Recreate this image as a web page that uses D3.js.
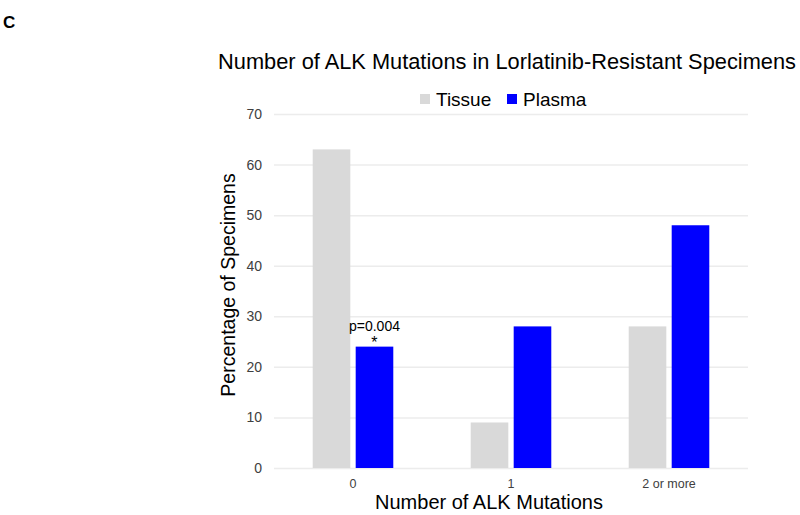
<!DOCTYPE html>
<html>
<head>
<meta charset="utf-8">
<script src="https://cdn.jsdelivr.net/npm/d3@7"></script>
<style>
  body { margin: 0; background: #fff; }
  svg { font-family: "Liberation Sans", Arial, sans-serif; display: block; }
  .grid line { stroke: #ececec; stroke-width: 1.5; }
  .tick text { fill: #404040; }
</style>
</head>
<body>
<div class="chart"></div>
<script>
const categories = ['0', '1', '2 or more']
const seriesNames = ['Tissue', 'Plasma']
const tissue = [63, 9, 28]
const plasma = [24, 28, 48]
const yTickValues = [0, 10, 20, 30, 40, 50, 60, 70]
const colors = { Tissue: '#d9d9d9', Plasma: '#0000ff' }

const width = 800
const height = 515
const margin = { top: 114, right: 52, bottom: 47, left: 274 }
const innerW = width - margin.left - margin.right
const innerH = height - margin.top - margin.bottom

const svg = d3.select('.chart').append('svg')
  .attr('width', width)
  .attr('height', height)

// panel letter
svg.append('text')
  .attr('x', 3).attr('y', 28)
  .attr('font-size', 17).attr('font-weight', 'bold')
  .text('C')

// title
svg.append('text')
  .attr('x', 507).attr('y', 69)
  .attr('text-anchor', 'middle')
  .attr('font-size', 21.8)
  .text('Number of ALK Mutations in Lorlatinib-Resistant Specimens')

const g = svg.append('g')
  .attr('transform', `translate(${margin.left},${margin.top})`)

const x0 = d3.scaleBand()
  .domain(categories)
  .range([0, innerW])
  .paddingInner(0.49)
  .paddingOuter(0.245)

const x1 = d3.scaleBand()
  .domain(seriesNames)
  .range([0, x0.bandwidth()])
  .paddingInner(0.125)

const y = d3.scaleLinear()
  .domain([0, 70])
  .range([innerH, 0])

// horizontal gridlines
g.append('g')
  .attr('class', 'grid')
  .call(d3.axisLeft(y).tickValues(yTickValues).tickSize(-innerW).tickFormat(''))
  .call(g => g.select('.domain').remove())

// y axis labels
g.append('g')
  .call(d3.axisLeft(y).tickValues(yTickValues).tickSize(0).tickPadding(12))
  .call(g => g.select('.domain').remove())
  .selectAll('text')
  .attr('font-size', 14)
  .attr('font-family', '"Liberation Sans", Arial, sans-serif')

// x axis labels
g.append('g')
  .attr('transform', `translate(0,${innerH})`)
  .call(d3.axisBottom(x0).tickSize(0).tickPadding(11))
  .call(g => g.select('.domain').remove())
  .selectAll('text')
  .attr('font-size', 12.5)
  .attr('font-family', '"Liberation Sans", Arial, sans-serif')

// bars
const rows = categories.map((c, i) => ({ cat: c, Tissue: tissue[i], Plasma: plasma[i] }))
g.selectAll('.group')
  .data(rows)
  .enter().append('g')
  .attr('transform', d => `translate(${x0(d.cat)},0)`)
  .selectAll('rect')
  .data(d => seriesNames.map(s => ({ key: s, value: d[s] })))
  .enter().append('rect')
  .attr('x', d => x1(d.key))
  .attr('y', d => y(d.value))
  .attr('width', x1.bandwidth())
  .attr('height', d => innerH - y(d.value))
  .attr('fill', d => colors[d.key])

// significance annotation above plasma bar at 0
const ax = x0(categories[0]) + x1('Plasma') + x1.bandwidth() / 2
g.append('text')
  .attr('x', ax).attr('y', y(plasma[0]) - 16)
  .attr('text-anchor', 'middle')
  .attr('font-size', 14)
  .text('p=0.004')
g.append('text')
  .attr('x', ax).attr('y', y(plasma[0]) + 1)
  .attr('text-anchor', 'middle')
  .attr('font-size', 16)
  .text('*')

// legend
const legend = svg.append('g').attr('transform', 'translate(420,99)')
const legendX = [0, 87]
seriesNames.forEach((s, i) => {
  legend.append('rect')
    .attr('x', legendX[i]).attr('y', -5)
    .attr('width', 10).attr('height', 10)
    .attr('fill', colors[s])
  legend.append('text')
    .attr('x', legendX[i] + 16).attr('y', 7)
    .attr('font-size', 19)
    .text(s)
})

// axis titles
svg.append('text')
  .attr('transform', 'translate(235,285) rotate(-90)')
  .attr('text-anchor', 'middle')
  .attr('font-size', 19.5)
  .text('Percentage of Specimens')

svg.append('text')
  .attr('x', 489).attr('y', 509)
  .attr('text-anchor', 'middle')
  .attr('font-size', 20)
  .text('Number of ALK Mutations')
</script>
</body>
</html>
